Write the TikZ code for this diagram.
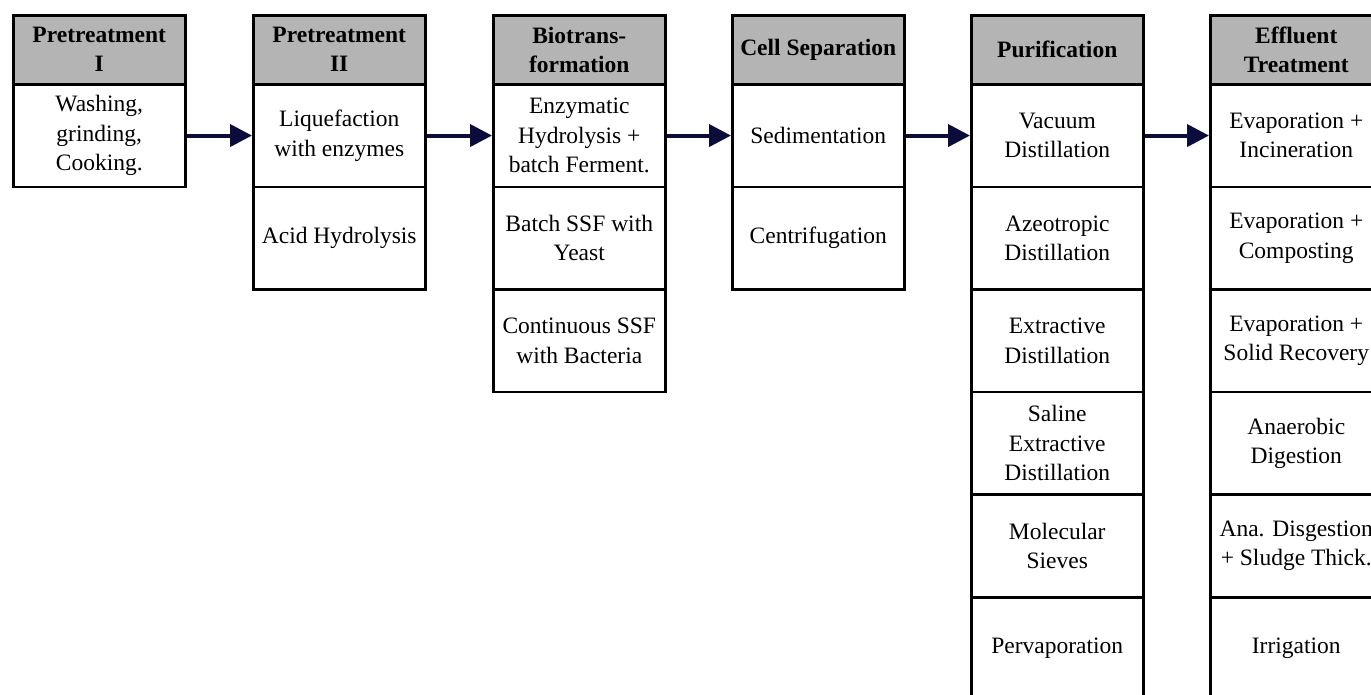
\documentclass[tikz,border=0pt]{standalone}
\usepackage{fontspec}
\setmainfont{Liberation Serif}
\usetikzlibrary{arrows.meta}
\definecolor{hdrgray}{RGB}{180,180,180}
\definecolor{navy}{RGB}{12,12,58}
\begin{document}
\begin{tikzpicture}[x=1pt,y=-1pt,
  cell/.style={draw=black, line width=2.5pt, minimum width=172pt, minimum height=102.6pt,
    inner sep=0pt, anchor=north west, align=center, font=\fontsize{23.5}{29.5}\selectfont},
  hdr/.style={cell, fill=hdrgray, minimum height=69pt, font=\bfseries\fontsize{23.5}{29}\selectfont},
  arr/.style={draw=navy, line width=4pt, -{Triangle[length=22pt,width=22pt]}}]
\useasboundingbox (0,0) rectangle (1371,694);
\clip (0,0) rectangle (1371,694);
% column 1
\node[hdr]  (h1)  at (12,14)  {Pretreatment\\I};
\node[cell] (c1a) at (12,83)  {Washing,\\grinding,\\Cooking.};
% column 2
\node[hdr]  (h2)  at (252,14)  {Pretreatment\\II};
\node[cell] (c2a) at (252,83)  {Liquefaction\\with enzymes};
\node[cell] (c2b) at (252,185.6) {Acid Hydrolysis};
% column 3
\node[hdr]  (h3)  at (492,14)  {Biotrans-\\formation};
\node[cell] (c3a) at (492,83)  {Enzymatic\\Hydrolysis +\\batch Ferment.};
\node[cell] (c3b) at (492,185.6) {Batch SSF with\\Yeast};
\node[cell] (c3c) at (492,288.2) {Continuous SSF\\with Bacteria};
% column 4
\node[hdr]  (h4)  at (731,14)  {Cell Separation};
\node[cell] (c4a) at (731,83)  {Sedimentation};
\node[cell] (c4b) at (731,185.6) {Centrifugation};
% column 5
\node[hdr]  (h5)  at (970,14)  {Purification};
\node[cell] (c5a) at (970,83)  {Vacuum\\Distillation};
\node[cell] (c5b) at (970,185.6) {Azeotropic\\Distillation};
\node[cell] (c5c) at (970,288.2) {Extractive\\Distillation};
\node[cell] (c5d) at (970,390.8) {Saline\\Extractive\\Distillation};
\node[cell] (c5e) at (970,493.4) {Molecular\\Sieves};
\node[cell] (c5f) at (970,596) {Pervaporation};
% column 6
\node[hdr]  (h6)  at (1209,14)  {Effluent\\Treatment};
\node[cell] (c6a) at (1209,83)  {Evaporation +\\Incineration};
\node[cell] (c6b) at (1209,185.6) {Evaporation +\\Composting};
\node[cell] (c6c) at (1209,288.2) {Evaporation +\\Solid Recovery};
\node[cell] (c6d) at (1209,390.8) {Anaerobic\\Digestion};
\node[cell] (c6e) at (1209,493.4) {Ana. Disgestion\\+ Sludge Thick.};
\node[cell] (c6f) at (1209,596) {Irrigation};
% arrows
\draw[arr] (c1a.east) -- (c2a.west);
\draw[arr] (c2a.east) -- (c3a.west);
\draw[arr] (c3a.east) -- (c4a.west);
\draw[arr] (c4a.east) -- (c5a.west);
\draw[arr] (c5a.east) -- (c6a.west);
\end{tikzpicture}
\end{document}
